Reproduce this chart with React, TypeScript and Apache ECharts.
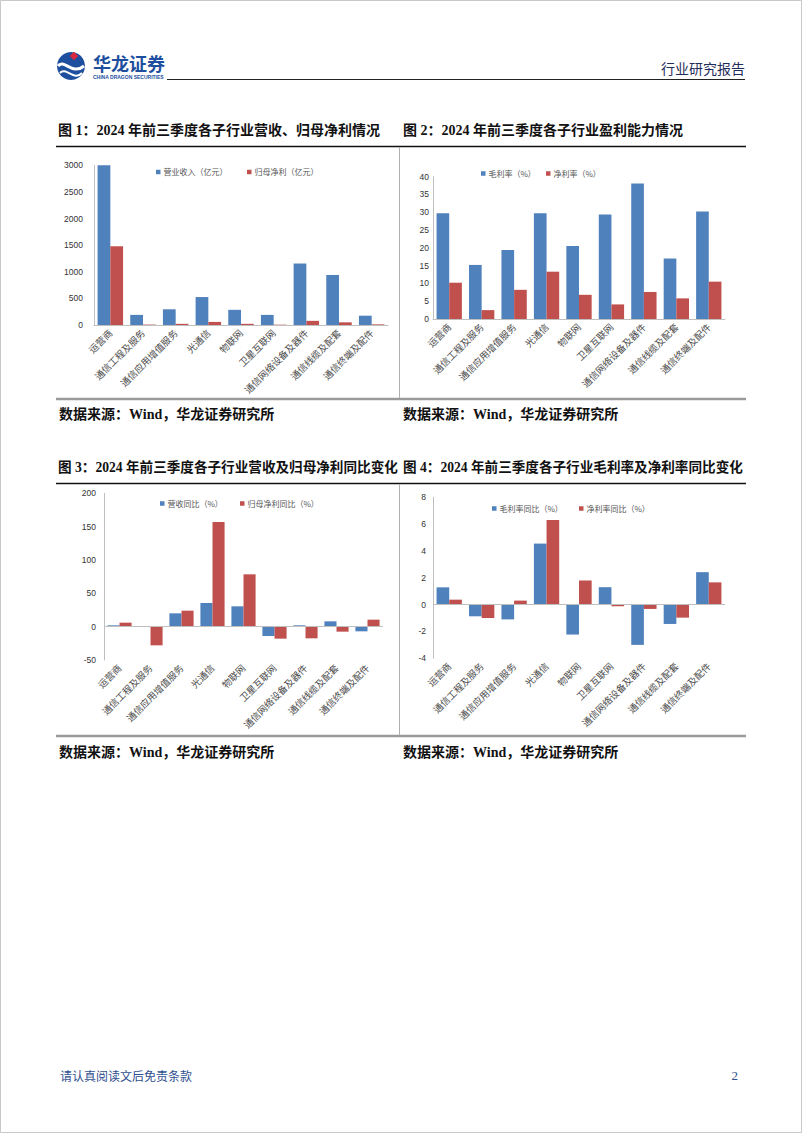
import React, { useEffect, useRef } from "react";
import * as echarts from "echarts";

const categories = ["运营商", "通信工程及服务", "通信应用增值服务", "光通信", "物联网", "卫星互联网", "通信网络设备及器件", "通信线缆及配套", "通信终端及配件"];
const revenue = [3000, 190, 295, 525, 285, 190, 1155, 940, 175];
const netProfit = [1480, 8, 22, 58, 22, 6, 78, 50, 12];
const grossMargin = [29.7, 15.2, 19.4, 29.7, 20.5, 29.4, 38.1, 17, 30.2];
const netMargin = [10.2, 2.5, 8.2, 13.3, 6.8, 4.1, 7.6, 5.8, 10.5];
const revenueYoY = [2, -0.5, 20, 35.5, 30.5, -14, 2, 8, -7];
const profitYoY = [6, -28, 24, 157, 78.5, -18, -17.5, -7.5, 10.5];
const grossYoY = [1.29, -0.87, -1.1, 4.55, -2.23, 1.3, -3.0, -1.44, 2.42];
const netYoY = [0.37, -1.0, 0.3, 6.3, 1.8, -0.12, -0.32, -0.97, 1.66];

const seriesNames = [
  ["营业收入（亿元）", "归母净利（亿元）"],
  ["毛利率（%）", "净利率（%）"],
  ["营收同比（%）", "归母净利同比（%）"],
  ["毛利率同比（%）", "净利率同比（%）"],
];
const yRanges = [
  [0, 3000, 500],
  [0, 40, 5],
  [-50, 200, 50],
  [-4, 8, 2],
];
const titles = [
  "图 1：2024 年前三季度各子行业营收、归母净利情况",
  "图 2：2024 年前三季度各子行业盈利能力情况",
  "图 3：2024 年前三季度各子行业营收及归母净利同比变化",
  "图 4：2024 年前三季度各子行业毛利率及净利率同比变化",
];
const sourceText = "数据来源：Wind，华龙证券研究所";

const BLUE = "#4F81BD";
const RED = "#C0504D";
const CJK = "'Noto Sans CJK SC'";
const SERIF = "'Liberation Serif', 'Noto Sans CJK SC'";

export default function App() {
  const ref = useRef<HTMLDivElement>(null);
  useEffect(() => {
    if (!ref.current) return;
    const chart = echarts.init(ref.current, undefined, { renderer: "svg" });
    const grids = [
      { left: 94, top: 165.3, width: 294, height: 159.7 },
      { left: 433, top: 176.7, width: 292, height: 142.3 },
      { left: 104, top: 493.3, width: 279, height: 166.7 },
      { left: 433, top: 497.3, width: 292, height: 161 },
    ];
    const yLabelMargin = [11, 4, 8, 7];
    const legendPos = [
      [{ left: 156, top: 168 }, { left: 247, top: 168 }],
      [{ left: 481, top: 169.5 }, { left: 546, top: 169.5 }],
      [{ left: 160, top: 499.5 }, { left: 240, top: 499.5 }],
      [{ left: 492, top: 504.5 }, { left: 579, top: 504.5 }],
    ];
    const dataSets = [
      [revenue, netProfit],
      [grossMargin, netMargin],
      [revenueYoY, profitYoY],
      [grossYoY, netYoY],
    ];

    const legends: any[] = [];
    const series: any[] = [];
    const xAxes: any[] = [];
    const yAxes: any[] = [];
    for (let i = 0; i < 4; i++) {
      const zeroLine = i >= 2;
      xAxes.push({
        type: "category",
        gridIndex: i,
        data: categories,
        axisLine: { show: !zeroLine, onZero: false, lineStyle: { color: "#bfbfbf" } },
        axisTick: { show: false },
        axisLabel: {
          interval: 0,
          rotate: 45,
          fontSize: 9.5,
          color: "#4a4a4a",
          fontFamily: CJK,
          margin: 6,
        },
      });
      yAxes.push({
        type: "value",
        gridIndex: i,
        min: yRanges[i][0],
        max: yRanges[i][1],
        interval: yRanges[i][2],
        splitLine: { show: false },
        axisLine: { show: true, lineStyle: { color: "#bfbfbf" } },
        axisTick: { show: false },
        axisLabel: {
          fontSize: 8.5,
          color: "#333",
          fontFamily: "'Liberation Sans'",
          margin: yLabelMargin[i],
          formatter: (v: number) => String(v),
        },
      });
      for (let s = 0; s < 2; s++) {
        legends.push({
          data: [seriesNames[i][s]],
          left: legendPos[i][s].left,
          top: legendPos[i][s].top,
          icon: "rect",
          itemWidth: 4.5,
          itemHeight: 4.5,
          padding: 0,
          textStyle: { fontSize: 8, color: "#555", fontFamily: CJK, padding: [0, 0, 0, -2] },
        });
        const ser: any = {
          type: "bar",
          name: seriesNames[i][s],
          xAxisIndex: i,
          yAxisIndex: i,
          data: dataSets[i][s],
          barGap: "0%",
          barCategoryGap: "22%",
          itemStyle: { color: s === 0 ? BLUE : RED },
        };
        if (zeroLine && s === 0) {
          ser.markLine = {
            silent: true,
            symbol: "none",
            label: { show: false },
            lineStyle: { color: "#bfbfbf", type: "solid", width: 1 },
            data: [{ yAxis: 0 }],
          };
        }
        series.push(ser);
      }
    }

    const graphics: any[] = [
      // page border
      { type: "rect", shape: { x: 0.5, y: 0.5, width: 801, height: 1132 }, style: { fill: "none", stroke: "#c8c8c8", lineWidth: 1 } },
      // logo
      { type: "circle", shape: { cx: 71, cy: 66, r: 14 }, style: { fill: "#1d4f9e" } },
      { type: "bezierCurve", shape: { x1: 58, y1: 66, cpx1: 64, cpy1: 58, cpx2: 72, cpy2: 76, x2: 84, y2: 66 }, style: { stroke: "#fff", lineWidth: 3, fill: "none" } },
      { type: "bezierCurve", shape: { x1: 60, y1: 73, cpx1: 66, cpy1: 66, cpx2: 74, cpy2: 82, x2: 82, y2: 73 }, style: { stroke: "#fff", lineWidth: 2, fill: "none" } },
      { type: "rect", x: 74, y: 56, rotation: Math.PI / 4, shape: { x: -3, y: -3, width: 6, height: 6 }, style: { fill: "#d7263d" } },
      { type: "text", x: 93, y: 62.5, style: { text: "华龙证券", font: `bold 18px ${CJK}`, fill: "#1d4f9e", textVerticalAlign: "middle" } },
      { type: "text", x: 93, y: 76.5, style: { text: "CHINA DRAGON SECURITIES", font: "bold 5px 'Liberation Sans'", fill: "#1d4f9e", textVerticalAlign: "middle" } },
      { type: "line", shape: { x1: 167, y1: 79.5, x2: 745, y2: 79.5 }, style: { stroke: "#222", lineWidth: 1 } },
      { type: "text", x: 745, y: 68, style: { text: "行业研究报告", font: `14px ${CJK}`, fill: "#1f2d5a", textAlign: "right", textVerticalAlign: "middle" } },
      // row frames
      { type: "line", shape: { x1: 56, y1: 146.5, x2: 746, y2: 146.5 }, style: { stroke: "#111", lineWidth: 1.5 } },
      { type: "line", shape: { x1: 56, y1: 399, x2: 746, y2: 399 }, style: { stroke: "#9a9a9a", lineWidth: 2.5 } },
      { type: "line", shape: { x1: 399.5, y1: 147, x2: 399.5, y2: 398 }, style: { stroke: "#b0b0b0", lineWidth: 1 } },
      { type: "line", shape: { x1: 56, y1: 483.5, x2: 746, y2: 483.5 }, style: { stroke: "#111", lineWidth: 1.5 } },
      { type: "line", shape: { x1: 56, y1: 736, x2: 746, y2: 736 }, style: { stroke: "#9a9a9a", lineWidth: 2.5 } },
      { type: "line", shape: { x1: 399.5, y1: 484, x2: 399.5, y2: 735 }, style: { stroke: "#b0b0b0", lineWidth: 1 } },
      // titles
      { type: "text", x: 58, y: 130, style: { text: titles[0], font: `bold 14px ${SERIF}`, fill: "#111", textVerticalAlign: "middle" } },
      { type: "text", x: 403, y: 130, style: { text: titles[1], font: `bold 14px ${SERIF}`, fill: "#111", textVerticalAlign: "middle" } },
      { type: "text", x: 58, y: 467, style: { text: titles[2], font: `bold 13.6px ${SERIF}`, fill: "#111", textVerticalAlign: "middle" } },
      { type: "text", x: 403, y: 467, style: { text: titles[3], font: `bold 13.6px ${SERIF}`, fill: "#111", textVerticalAlign: "middle" } },
      // sources
      { type: "text", x: 59, y: 414, style: { text: sourceText, font: `bold 14px ${SERIF}`, fill: "#111", textVerticalAlign: "middle" } },
      { type: "text", x: 403, y: 414, style: { text: sourceText, font: `bold 14px ${SERIF}`, fill: "#111", textVerticalAlign: "middle" } },
      { type: "text", x: 59, y: 752, style: { text: sourceText, font: `bold 14px ${SERIF}`, fill: "#111", textVerticalAlign: "middle" } },
      { type: "text", x: 403, y: 752, style: { text: sourceText, font: `bold 14px ${SERIF}`, fill: "#111", textVerticalAlign: "middle" } },
      // footer
      { type: "text", x: 60, y: 1075, style: { text: "请认真阅读文后免责条款", font: `12px ${CJK}`, fill: "#2f4f8f", textVerticalAlign: "middle" } },
      { type: "text", x: 738, y: 1075, style: { text: "2", font: "13px 'Liberation Serif'", fill: "#2f4f8f", textAlign: "right", textVerticalAlign: "middle" } },
    ];

    chart.setOption({
      animation: false,
      backgroundColor: "#fff",
      grid: grids.map((g) => ({ ...g, containLabel: false })),
      legend: legends,
      xAxis: xAxes,
      yAxis: yAxes,
      series,
      graphic: { elements: graphics },
    });
    return () => chart.dispose();
  }, []);
  return <div ref={ref} style={{ position: "absolute", left: 0, top: 0, width: 802, height: 1133 }} />;
}
